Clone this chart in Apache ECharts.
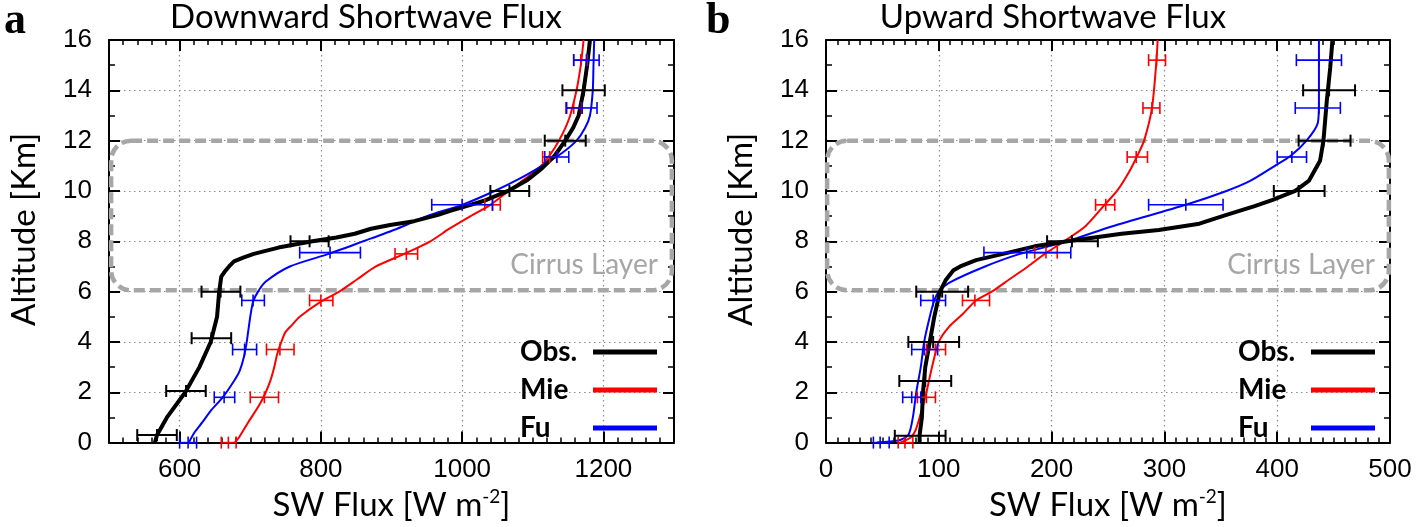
<!DOCTYPE html>
<html><head><meta charset="utf-8">
<script src="https://cdn.jsdelivr.net/npm/echarts@6/dist/echarts.min.js"></script>
<style>html,body{margin:0;padding:0;background:#fff}#c{width:1418px;height:527px}</style>
</head><body><div id="c"></div>
<script>
// ---------- Panel a : Downward shortwave flux ----------
const altA_obs  = [0, 0.3, 1.0, 2.0, 3.0, 4.0, 5.0, 6.0, 6.6, 6.8, 7.0, 7.2, 7.35, 7.5, 7.75, 8.0, 8.15, 8.3, 8.5, 8.65, 8.8, 9.05, 9.2, 9.35, 9.6, 10.0, 10.45, 10.9, 11.4, 12.0, 12.5, 13.0, 14.0, 15.0, 16.0];
const fluxA_obs = [565, 568, 582, 608, 628, 644, 653, 656, 659, 664, 670, 677, 690, 705, 740, 788, 822, 848, 871, 898, 932, 966, 982, 1000, 1030, 1065, 1093, 1113, 1131, 1146, 1157, 1165, 1172, 1177, 1181];
const altA_mie  = [0, 0.2, 0.8, 1.5, 2.0, 2.5, 3.0, 3.5, 4.0, 4.4, 4.7, 5.0, 5.6, 6.0, 6.5, 7.0, 7.5, 8.0, 8.5, 9.0, 9.45, 10.0, 10.5, 11.0, 11.5, 12.0, 12.5, 13.0, 14.0, 15.0, 16.0];
const fluxA_mie = [678, 684, 697, 713, 722, 729, 734, 738, 744, 750, 760, 770, 800, 826, 852, 878, 918, 955, 982, 1012, 1040, 1066, 1090, 1112, 1126, 1137, 1146, 1153, 1162, 1168, 1172];
const altA_fu   = [0, 0.4, 0.8, 1.3, 1.8, 2.45, 2.85, 3.4, 4.0, 5.0, 5.6, 6.0, 6.4, 7.0, 7.5, 8.0, 8.5, 9.0, 9.45, 10.0, 10.5, 11.0, 11.5, 12.0, 12.5, 13.0, 14.0, 15.0, 16.0];
const fluxA_fu  = [613, 621, 632, 645, 661, 677, 685, 691, 695, 700, 704, 711, 722, 756, 811, 860, 908, 950, 1000, 1046, 1082, 1113, 1141, 1162, 1174, 1181, 1185, 1186, 1187];
// error bars: [centre, altitude, low, high]
const errA_obs = [[568,0.3,540,596],[609,2.05,581,637],[645,4.15,617,673],[658,6.0,631,686],[784,8.0,757,811],[1067,10.0,1040,1095],[1146,12.0,1117,1175],[1172,14.0,1142,1202]];
const errA_mie = [[669,0,659,680],[720,1.8,700,740],[742,3.7,723,762],[800,5.65,784,817],[921,7.5,905,937],[1043,9.45,1032,1054],[1124,11.35,1114,1134],[1158,13.3,1147,1169],[1168,15.2,1158,1177]];
const errA_fu  = [[612,0,600,624],[663,1.8,649,678],[692,3.7,675,709],[704,5.65,688,720],[813,7.55,770,856],[1000,9.45,957,1043],[1134,11.35,1117,1151],[1170,13.3,1148,1191],[1176,15.2,1158,1194]];

// ---------- Panel b : Upward shortwave flux ----------
const altB_obs  = [0, 0.3, 1.0, 2.0, 3.0, 4.0, 5.0, 6.0, 6.45, 6.85, 7.0, 7.25, 7.5, 7.8, 8.0, 8.3, 8.45, 8.7, 9.05, 9.4, 9.65, 10.0, 10.4, 11.2, 12.0, 13.6, 14.9, 16.0];
const fluxB_obs = [83, 83, 85, 86, 88, 92, 96, 101, 106, 113, 119, 133, 157, 185, 214, 262, 295, 331, 355, 380, 396, 416, 428, 438, 441, 444, 447, 449];
const altB_mie  = [0, 0.2, 0.45, 1.0, 2.0, 3.0, 4.0, 4.6, 5.1, 5.65, 6.0, 6.5, 7.0, 7.5, 8.0, 8.6, 9.45, 10.0, 10.7, 11.4, 12.0, 13.3, 15.2, 16.0];
const fluxB_mie = [66, 75, 79, 83, 89, 94, 100, 109, 121, 133, 147, 163, 179, 194, 211, 230, 247, 258, 268, 276, 282, 289, 293, 294];
const altB_fu   = [0, 0.08, 0.3, 1.0, 2.0, 3.0, 4.0, 5.0, 5.65, 6.0, 6.35, 7.0, 7.5, 8.0, 8.6, 9.45, 10.0, 10.4, 11.0, 11.4, 12.0, 12.7, 13.6, 16.0];
const fluxB_fu  = [45, 64, 73, 77, 80, 84, 87, 92, 96, 100, 109, 141, 172, 214, 254, 319, 355, 376, 398, 412, 426, 436, 437, 437];
const errB_obs = [[83,0.27,61,106],[88,2.45,65,111],[95,4.0,73,118],[103,6.0,80,126],[218,8.0,196,241],[419,10.0,397,442],[441,12.0,419,465],[446,14.0,423,469]];
const errB_mie = [[70,0,64,77],[89,1.8,81,97],[97,3.7,89,106],[132,5.65,121,145],[195,7.55,185,205],[248,9.45,239,256],[275,11.35,267,285],[289,13.3,281,296],[293,15.2,286,301]];
const errB_fu  = [[48,0,42,56],[76,1.8,68,84],[87,3.7,76,99],[95,5.65,84,106],[178,7.55,140,217],[319,9.45,286,352],[413,11.35,400,426],[437,13.3,416,456],[437,15.2,417,457]];

// cirrus layer box: [xLeft, altBottom, xRight, altTop]
const cirrusA = [[503, 6.05, 1297, 12]];
const cirrusB = [[1, 6.05, 499, 12]];
const cirrusLabel = 'Cirrus Layer';

const legendNames = ['Obs.', 'Mie', 'Fu'];
const titleA = 'Downward Shortwave Flux';
const titleB = 'Upward Shortwave Flux';
const yName = 'Altitude [Km]';
const xName = 'SW Flux [W m{sup|-2}]';

const zip = (xs, ys) => xs.map((x, i) => [x, ys[i]]);

const BLACK = '#000000', RED = '#ff0000', BLUE = '#0000ff', GRAY = '#a6a6a6';
const nameFont = 'Lato';

function xAxisCfg(grid, min, max, opts, top, hideEdges) {
  return Object.assign({
    type: 'value', gridIndex: grid, min: min, max: max, position: top ? 'top' : 'bottom',
    axisLine: { show: true, onZero: false, lineStyle: { color: BLACK, width: 2 } },
    axisTick: { show: true, inside: true, length: 11, lineStyle: { color: BLACK, width: 2 } },
    minorTick: { show: true, splitNumber: 10, length: 5, lineStyle: { color: BLACK, width: 1.5 } },
    splitLine: top ? { show: false } : { show: true, showMinLine: false, showMaxLine: false, lineStyle: { color: '#8a8a8a', width: 1.2, type: [1.5, 3.5] } },
    axisLabel: top ? { show: false } : { show: true, margin: 14, fontFamily: 'Liberation Sans', fontSize: 26, color: BLACK,
      showMinLabel: !hideEdges, showMaxLabel: !hideEdges, formatter: v => String(v) },
    name: top ? '' : xName, nameLocation: 'middle', nameGap: 37,
    nameTextStyle: { fontFamily: nameFont, fontSize: 33, color: BLACK,
      rich: { sup: { fontFamily: nameFont, fontSize: 19, verticalAlign: 'top', lineHeight: 36 } } }
  }, opts || {});
}
function yAxisCfg(grid, right) {
  return {
    type: 'value', gridIndex: grid, min: 0, max: 16, interval: 2, position: right ? 'right' : 'left',
    axisLine: { show: true, onZero: false, lineStyle: { color: BLACK, width: 2 } },
    axisTick: { show: true, inside: true, length: 11, lineStyle: { color: BLACK, width: 2 } },
    minorTick: { show: true, splitNumber: 2, length: 6, lineStyle: { color: BLACK, width: 1.5 } },
    splitLine: right ? { show: false } : { show: true, showMinLine: false, showMaxLine: false, lineStyle: { color: '#8a8a8a', width: 1.2, type: [1.5, 3.5] } },
    axisLabel: right ? { show: false } : { show: true, margin: 17, fontFamily: 'Liberation Sans', fontSize: 26, color: BLACK },
    name: right ? '' : yName, nameLocation: 'middle', nameGap: 68,
    nameTextStyle: { fontFamily: nameFont, fontSize: 33, color: BLACK, padding: [0, 0, 0, 24] }
  };
}

function errRender(color, lw) {
  return function (params, api) {
    const y = api.value(1);
    const pl = api.coord([api.value(2), y]);
    const pr = api.coord([api.value(3), y]);
    const pc = api.coord([api.value(0), y]);
    const h = 6;
    const st = { stroke: color, lineWidth: lw, fill: null };
    return { type: 'group', children: [
      { type: 'line', shape: { x1: pl[0], y1: pl[1], x2: pr[0], y2: pr[1] }, style: st },
      { type: 'line', shape: { x1: pl[0], y1: pl[1] - h, x2: pl[0], y2: pl[1] + h }, style: st },
      { type: 'line', shape: { x1: pr[0], y1: pr[1] - h, x2: pr[0], y2: pr[1] + h }, style: st },
      { type: 'line', shape: { x1: pc[0], y1: pc[1] - h, x2: pc[0], y2: pc[1] + h }, style: st }
    ] };
  };
}
function boxRender(params, api) {
  const p0 = api.coord([api.value(0), api.value(3)]);
  const p1 = api.coord([api.value(2), api.value(1)]);
  return { type: 'group', children: [
    { type: 'rect', shape: { x: p0[0], y: p0[1], width: p1[0] - p0[0], height: p1[1] - p0[1], r: 20 },
      style: { fill: null, stroke: GRAY, lineWidth: 4.5, lineDash: [11, 5] } },
    { type: 'text', x: p1[0] - 14, y: p1[1] - 25,
      style: { text: cirrusLabel, fill: GRAY, font: '28px Lato', align: 'right', verticalAlign: 'middle' } }
  ] };
}

function panelSeries(xi, yi, obs, mie, fu, eObs, eMie, eFu, box) {
  const base = { xAxisIndex: xi, yAxisIndex: yi, animation: false };
  return [
    Object.assign({ type: 'custom', renderItem: boxRender, data: box, encode: { x: [0, 2], y: [1, 3] }, z: 1, silent: true, clip: false }, base),
    Object.assign({ name: 'Mie', type: 'line', data: mie, showSymbol: false, smooth: 0.25, lineStyle: { color: RED, width: 2 }, itemStyle: { color: RED }, z: 3 }, base),
    Object.assign({ name: 'Fu', type: 'line', data: fu, showSymbol: false, smooth: 0.25, lineStyle: { color: BLUE, width: 2 }, itemStyle: { color: BLUE }, z: 3 }, base),
    Object.assign({ name: 'Obs.', type: 'line', data: obs, showSymbol: false, lineStyle: { color: BLACK, width: 4 }, itemStyle: { color: BLACK }, z: 4 }, base),
    Object.assign({ type: 'custom', renderItem: errRender(RED, 1.6), data: eMie, encode: { x: [0, 2, 3], y: 1 }, z: 5, clip: false }, base),
    Object.assign({ type: 'custom', renderItem: errRender(BLUE, 1.6), data: eFu, encode: { x: [0, 2, 3], y: 1 }, z: 5, clip: false }, base),
    Object.assign({ type: 'custom', renderItem: errRender(BLACK, 2), data: eObs, encode: { x: [0, 2, 3], y: 1 }, z: 6, clip: false }, base)
  ];
}

function legendCfg(left) {
  return {
    data: legendNames, orient: 'vertical', align: 'right', left: left, top: 333,
    itemWidth: 64, itemHeight: 5, itemGap: 10, icon: 'rect', selectedMode: false,
    formatter: '{n|{name}}',
    textStyle: { color: BLACK, rich: { n: { fontFamily: nameFont, fontWeight: 'bold', fontSize: 28, width: 68, align: 'left', lineHeight: 28 } } }
  };
}

const chart = echarts.init(document.getElementById('c'), null, { renderer: 'canvas' });
chart.setOption({
  backgroundColor: '#ffffff',
  animation: false,
  grid: [
    { left: 109, top: 40, width: 565, height: 407 },
    { left: 826, top: 40, width: 564, height: 407 }
  ],
  xAxis: [
    xAxisCfg(0, 500, 1300, { splitNumber: 4 }, false, true),
    xAxisCfg(0, 500, 1300, { splitNumber: 4 }, true, true),
    xAxisCfg(1, 0, 500, { interval: 100 }, false, false),
    xAxisCfg(1, 0, 500, { interval: 100 }, true, false)
  ],
  yAxis: [yAxisCfg(0, false), yAxisCfg(0, true), yAxisCfg(1, false), yAxisCfg(1, true)],
  legend: [legendCfg(515), legendCfg(1233)],
  graphic: [
    { type: 'text', x: 4, y: 0, style: { text: 'a', font: 'bold 44px "Liberation Serif"', fill: BLACK } },
    { type: 'text', x: 706, y: 0, style: { text: 'b', font: 'bold 44px "Liberation Serif"', fill: BLACK } },
    { type: 'text', x: 366, y: 17, style: { text: titleA, font: '33px Lato', fill: BLACK, align: 'center', verticalAlign: 'middle' } },
    { type: 'text', x: 1053, y: 17, style: { text: titleB, font: '33px Lato', fill: BLACK, align: 'center', verticalAlign: 'middle' } }
  ],
  series: [].concat(
    panelSeries(0, 0, zip(fluxA_obs, altA_obs), zip(fluxA_mie, altA_mie), zip(fluxA_fu, altA_fu), errA_obs, errA_mie, errA_fu, cirrusA),
    panelSeries(2, 2, zip(fluxB_obs, altB_obs), zip(fluxB_mie, altB_mie), zip(fluxB_fu, altB_fu), errB_obs, errB_mie, errB_fu, cirrusB)
  )
});
</script></body></html>
